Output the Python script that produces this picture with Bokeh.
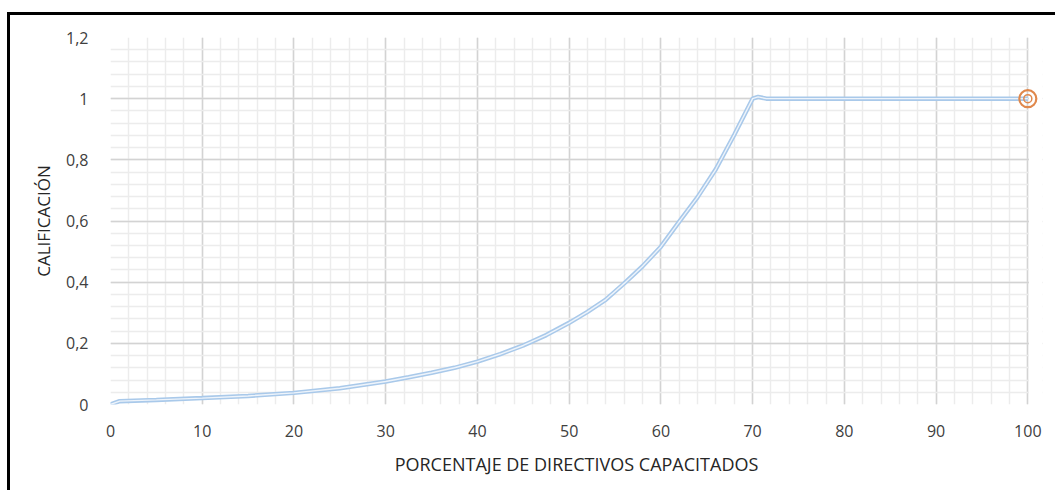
from bokeh.plotting import figure
from bokeh.models import FixedTicker, Range1d, BoxAnnotation
from bokeh.embed import file_html
from bokeh.resources import INLINE

# data
pct = [0, 1, 5, 10, 15, 20, 25, 30, 32.5, 35, 37.5, 40, 42.5, 45, 47.5, 50, 52, 54, 56, 58,
       60, 62, 64, 66, 68, 70, 70.6, 71.5, 80, 90, 100]
score = [0.0, 0.011, 0.015, 0.021, 0.028, 0.038, 0.053, 0.075, 0.089, 0.104, 0.12, 0.14,
         0.165, 0.193, 0.227, 0.267, 0.303, 0.343, 0.396, 0.452, 0.516, 0.598, 0.678, 0.77,
         0.882, 1.0, 1.006, 1.0, 1.0, 1.0, 1.0]
marker_x = [100]
marker_y = [1.0]

x_ticks = [0, 10, 20, 30, 40, 50, 60, 70, 80, 90, 100]
x_minor = [v for v in range(0, 101, 2)]
y_ticks = [0, 0.2, 0.4, 0.6, 0.8, 1.0, 1.2]
y_labels = ["0", "0,2", "0,4", "0,6", "0,8", "1", "1,2"]
y_minor = [round(i * 0.04, 2) for i in range(0, 31)]

FONT = "Open Sans"
TXT = "#404040"

p = figure(frame_width=932, frame_height=367, output_backend="svg", toolbar_location=None,
           x_range=Range1d(0, 101.6), y_range=Range1d(0, 1.2),
           min_border_left=100, min_border_right=13, min_border_top=22, min_border_bottom=86)
p.margin = (12, 0, 0, 7)
p.styles = {"border-top": "3px solid black", "border-left": "3px solid black"}
p.outline_line_color = None
p.background_fill_color = "white"
p.border_fill_color = "white"

p.xaxis.ticker = FixedTicker(ticks=x_ticks, minor_ticks=x_minor)
p.yaxis.ticker = FixedTicker(ticks=y_ticks, minor_ticks=y_minor)
p.yaxis.major_label_overrides = {t: l for t, l in zip(y_ticks, y_labels)}
p.xaxis.major_label_overrides = {t: str(t) for t in x_ticks}

for ax in (p.xaxis, p.yaxis):
    ax.axis_line_color = None
    ax.major_tick_line_color = None
    ax.minor_tick_line_color = None
    ax.major_label_text_font = FONT
    ax.major_label_text_font_size = "16px"
    ax.major_label_text_color = TXT
    ax.axis_label_text_font = FONT
    ax.axis_label_text_font_style = "normal"
    ax.axis_label_text_color = "#262626"

p.xaxis.axis_label_text_font_size = "18px"
p.yaxis.axis_label_text_font_size = "17px"
p.xaxis.major_label_standoff = 14
p.yaxis.major_label_standoff = 16
p.xaxis.axis_label = "PORCENTAJE DE DIRECTIVOS CAPACITADOS"
p.yaxis.axis_label = "CALIFICACIÓN"
p.xaxis.axis_label_standoff = 12
p.yaxis.axis_label_standoff = 8

p.xgrid.grid_line_color = "#d3d3d3"
p.ygrid.grid_line_color = "#d3d3d3"
p.xgrid.grid_line_width = 1.5
p.ygrid.grid_line_width = 1.5
p.xgrid.minor_grid_line_color = "#ececec"
p.ygrid.minor_grid_line_color = "#ececec"
p.xgrid.minor_grid_line_width = 1.5
p.ygrid.minor_grid_line_width = 1.5

# hide the grid beyond the last category (x > 100), keep room for the marker
p.add_layout(BoxAnnotation(left=100.12, level="underlay", fill_color="white",
                           fill_alpha=1.0, line_color=None))

# double (compound) line
p.line(pct, score, line_color="#a9c9ea", line_width=4.5)
p.line(pct, score, line_color="#eef4fb", line_width=1.4)

# double-circle marker
p.scatter(marker_x, marker_y, size=17, marker="circle", fill_color=None,
          line_color="#e0884c", line_width=2.2)
p.scatter(marker_x, marker_y, size=8, marker="circle", fill_color=None,
          line_color="#e0884c", line_width=1.5)

open("out.html", "w").write(file_html(p, INLINE))
